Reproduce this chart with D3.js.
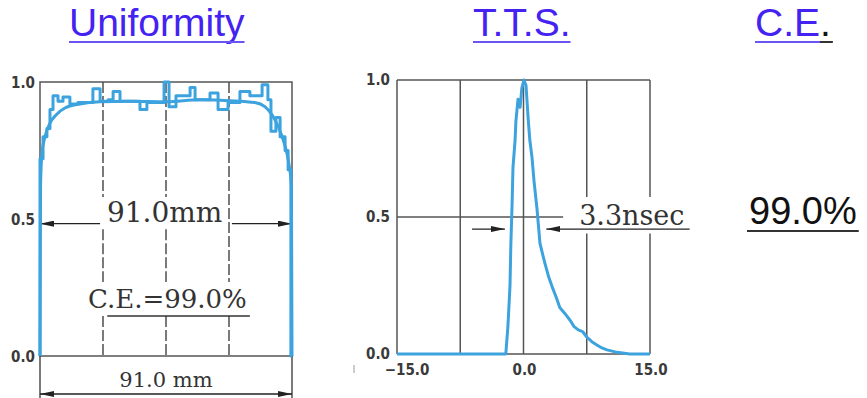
<!DOCTYPE html>
<html>
<head>
<meta charset="utf-8">
<script src="https://cdn.jsdelivr.net/npm/d3@7"></script>
<style>
  body { margin: 0; background: #fff; }
  svg { display: block; }
</style>
</head>
<body>
<div id="chart"></div>
<script>
// uniformity: histogram steps [mm, relative output]
const uniHist = [
  [-45.5, 0], [-45.5, 0.72], [-44.4, 0.80], [-43.0, 0.83], [-41.9, 0.90], [-40.8, 0.95],
  [-39.0, 0.93], [-37.2, 0.945], [-34.7, 0.92], [-31.8, 0.925], [-26.4, 0.975],
  [-23.8, 0.93], [-20.9, 0.935], [-19.1, 0.965], [-16.6, 0.93], [-9.4, 0.90],
  [-6.9, 0.925], [-0.7, 1.0], [1.1, 0.91], [3.6, 0.95], [8.7, 0.98], [10.5, 0.935],
  [15.9, 0.96], [18.8, 0.90], [22.4, 0.925], [26.7, 0.965], [30.3, 0.95], [34.7, 0.99],
  [36.8, 0.935], [37.9, 0.82], [39.7, 0.87], [41.2, 0.80], [43.0, 0.75], [44.1, 0.68],
  [45.1, 0], [45.5, 0]
];
// uniformity: smooth fit
const uniFit = [
  [-45.5, 0], [-45.3, 0.62], [-44.8, 0.74], [-43.7, 0.80], [-41.9, 0.85], [-39.7, 0.88],
  [-36.5, 0.905], [-31.1, 0.92], [-23.8, 0.928], [-13.0, 0.93], [0, 0.928], [12.3, 0.935],
  [23.1, 0.932], [32.1, 0.925], [35.7, 0.91], [38.3, 0.88], [40.4, 0.84], [42.6, 0.78],
  [44.4, 0.70], [45.3, 0.62], [45.5, 0]
];
// transit time spread [ns, relative count]
const tts = [
  [-15, 0], [-2.1, 0], [-1.85, 0.1], [-1.6, 0.25], [-1.5, 0.4], [-1.35, 0.55], [-1.25, 0.68],
  [-1.0, 0.78], [-0.9, 0.85], [-0.65, 0.93], [-0.4, 0.9], [-0.2, 0.97], [0.05, 1.0],
  [0.3, 0.98], [0.55, 0.86], [0.75, 0.78], [1.0, 0.72], [1.25, 0.63], [1.6, 0.53],
  [1.95, 0.405], [2.3, 0.36], [2.55, 0.33], [3.0, 0.28], [3.4, 0.245], [3.9, 0.205],
  [4.3, 0.17], [4.9, 0.148], [5.5, 0.124], [6.0, 0.1], [6.5, 0.088], [7.0, 0.082],
  [7.5, 0.062], [8.1, 0.045], [8.7, 0.033], [9.3, 0.022], [9.9, 0.015], [11.1, 0.006],
  [12.6, 0], [15, 0]
];
const uniXTicks = [-22.75, 0, 22.75];
const ttsXTicks = [-7.5, 0, 7.5];
const yTickLabels = [[0, "0.0"], [0.5, "0.5"], [1, "1.0"]];
const ttsXLabels = [[-15, "\u221215.0"], [0, "0.0"], [15, "15.0"]];
const titles = ["Uniformity", "T.T.S.", "C.E"];
const uniWidthLabel = "91.0mm";
const uniDimLabel = "91.0 mm";
const uniCELabel = "C.E.=99.0%";
const fwhmLabel = "3.3nsec";
const ceValue = "99.0%";

const width = 867, height = 398;
const blue = "#3da3de", frame = "#555", ink = "#333";
const titleColor = "#4322f2";
const serif = "'DejaVu Serif', serif";
const tickFont = "'DejaVu Sans Condensed', 'DejaVu Sans', sans-serif";

const svg = d3.select("#chart").append("svg")
  .attr("width", width).attr("height", height);

const defs = svg.append("defs");
defs.append("marker")
  .attr("id", "arrow")
  .attr("viewBox", "0 0 14 6")
  .attr("refX", 14).attr("refY", 3)
  .attr("markerWidth", 14).attr("markerHeight", 6)
  .attr("markerUnits", "userSpaceOnUse")
  .attr("orient", "auto")
  .append("path").attr("d", "M0,0L14,3L0,6Z").attr("fill", "#222");

// titles
const titleSize = 39, titleBase = 36;
function title(x, y, text) {
  const t = svg.append("text").attr("x", x).attr("y", y)
    .attr("font-family", "'Liberation Sans', Arial, sans-serif")
    .attr("font-size", titleSize).attr("fill", titleColor).text(text);
  const w = t.node().getComputedTextLength();
  svg.append("line").attr("x1", x).attr("x2", x + w).attr("y1", y + 6).attr("y2", y + 6)
    .attr("stroke", "#6a55f2").attr("stroke-width", 2);
  return w;
}
title(69, titleBase, titles[0]);
title(473, titleBase, titles[1]);
const ceW = title(755, titleBase, titles[2]);
const dot = svg.append("text").attr("x", 755 + ceW).attr("y", titleBase)
  .attr("font-family", "'Liberation Sans', Arial, sans-serif")
  .attr("font-size", titleSize).attr("fill", "#111").text(".");
svg.append("line").attr("x1", 755 + ceW).attr("x2", 755 + ceW + dot.node().getComputedTextLength() + 2)
  .attr("y1", titleBase + 6).attr("y2", titleBase + 6).attr("stroke", "#333").attr("stroke-width", 2);

// ---------- uniformity panel ----------
const xU = d3.scaleLinear().domain([-45.5, 45.5]).range([40, 292]);
const yU = d3.scaleLinear().domain([0, 1]).range([356, 82]);
const gU = svg.append("g");

// dashed verticals, broken behind labels
const uniGaps = [[1, 0.58], [0.463, 0.27], [0.146, 0]];
uniXTicks.forEach((t, i) => {
  const segs = i === 2 ? [[1, 0.27], [0.146, 0]] : uniGaps;
  segs.forEach(s => {
    gU.append("line")
      .attr("x1", xU(t)).attr("x2", xU(t)).attr("y1", yU(s[0])).attr("y2", yU(s[1]))
      .attr("stroke", ink).attr("stroke-width", 1.3).attr("stroke-dasharray", "11,3");
  });
});
gU.append("rect").attr("x", xU(-45.5)).attr("y", yU(1))
  .attr("width", xU(45.5) - xU(-45.5)).attr("height", yU(0) - yU(1))
  .attr("fill", "none").attr("stroke", frame).attr("stroke-width", 1.5);

yTickLabels.forEach(([v, s]) => {
  gU.append("text").attr("x", 35).attr("y", yU(v) + 6).attr("text-anchor", "end")
    .attr("font-family", tickFont).attr("font-weight", "bold").attr("font-size", 15)
    .attr("fill", "#3a3a3a").text(s);
});

// 91.0mm width arrows at half max
gU.append("line").attr("x1", xU(-23.8)).attr("x2", xU(-45.5))
  .attr("y1", yU(0.483)).attr("y2", yU(0.483))
  .attr("stroke", "#222").attr("stroke-width", 1.3).attr("marker-end", "url(#arrow)");
gU.append("line").attr("x1", xU(23.8)).attr("x2", xU(45.5))
  .attr("y1", yU(0.483)).attr("y2", yU(0.483))
  .attr("stroke", "#222").attr("stroke-width", 1.3).attr("marker-end", "url(#arrow)");
gU.append("text").attr("x", xU(-0.5)).attr("y", yU(0.49)).attr("text-anchor", "middle")
  .attr("font-family", serif).attr("font-size", 28).attr("fill", ink).text(uniWidthLabel);

// C.E. label with underline
gU.append("text").attr("x", xU(0.5)).attr("y", yU(0.175)).attr("text-anchor", "middle")
  .attr("font-family", serif).attr("font-size", 26).attr("fill", ink).text(uniCELabel);
gU.append("line").attr("x1", xU(-21.2)).attr("x2", xU(30.3))
  .attr("y1", yU(0.146)).attr("y2", yU(0.146)).attr("stroke", ink).attr("stroke-width", 1.5);

// bottom dimension
[-45.5, 45.5].forEach(t => {
  gU.append("line").attr("x1", xU(t)).attr("x2", xU(t)).attr("y1", yU(0)).attr("y2", height)
    .attr("stroke", ink).attr("stroke-width", 1.3);
});
gU.append("line").attr("x1", xU(0)).attr("x2", xU(-45.5)).attr("y1", 394).attr("y2", 394)
  .attr("stroke", "#222").attr("stroke-width", 1.3).attr("marker-end", "url(#arrow)");
gU.append("line").attr("x1", xU(0)).attr("x2", xU(45.5)).attr("y1", 394).attr("y2", 394)
  .attr("stroke", "#222").attr("stroke-width", 1.3).attr("marker-end", "url(#arrow)");
gU.append("text").attr("x", xU(0)).attr("y", 387).attr("text-anchor", "middle")
  .attr("font-family", serif).attr("font-size", 21).attr("fill", ink).text(uniDimLabel);

const lineU = d3.line().x(d => xU(d[0])).y(d => yU(d[1]));
gU.append("path").datum(uniFit).attr("d", lineU.curve(d3.curveMonotoneX))
  .attr("fill", "none").attr("stroke", blue).attr("stroke-width", 3);
gU.append("path").datum(uniHist).attr("d", d3.line().x(d => xU(d[0])).y(d => yU(d[1])).curve(d3.curveStepAfter))
  .attr("fill", "none").attr("stroke", blue).attr("stroke-width", 3).attr("stroke-linejoin", "round");

// ---------- T.T.S. panel ----------
const xT = d3.scaleLinear().domain([-15, 15]).range([397, 650]);
const yT = d3.scaleLinear().domain([0, 1]).range([354, 80]);
const gT = svg.append("g");

const ttsLine = (x1, y1, x2, y2) => gT.append("line")
  .attr("x1", xT(x1)).attr("x2", xT(x2)).attr("y1", yT(y1)).attr("y2", yT(y2))
  .attr("stroke", frame).attr("stroke-width", 1.5);

ttsLine(-15, 1, 15, 1);
ttsLine(-15, 0, 15, 0);
ttsLine(-15, 0, -15, 1);
ttsXTicks.forEach(t => {
  if (t < 5) ttsLine(t, 0, t, 1);
  else { ttsLine(t, 1, t, 0.573); ttsLine(t, 0.44, t, 0); }
});
ttsLine(15, 1, 15, 0.573);
ttsLine(15, 0.44, 15, 0);
ttsLine(-15, 0.5, 4.7, 0.5);

yTickLabels.forEach(([v, s]) => {
  gT.append("text").attr("x", 390).attr("y", yT(v) + 5).attr("text-anchor", "end")
    .attr("font-family", tickFont).attr("font-weight", "bold").attr("font-size", 15)
    .attr("fill", "#3a3a3a").text(s);
});
ttsXLabels.forEach(([v, s]) => {
  gT.append("text").attr("x", xT(v) + (v < 0 ? 10 : 1)).attr("y", yT(0) + 21).attr("text-anchor", "middle")
    .attr("font-family", tickFont).attr("font-weight", "bold").attr("font-size", 15)
    .attr("fill", "#3a3a3a").text(s);
});
// stray mark left of axis
gT.append("line").attr("x1", 354).attr("x2", 354).attr("y1", 365).attr("y2", 373)
  .attr("stroke", "#bbb").attr("stroke-width", 1.5);

// FWHM arrows
gT.append("line").attr("x1", xT(-6.1)).attr("x2", xT(-2.2))
  .attr("y1", yT(0.456)).attr("y2", yT(0.456))
  .attr("stroke", "#222").attr("stroke-width", 1.3).attr("marker-end", "url(#arrow)");
gT.append("line").attr("x1", xT(19.7)).attr("x2", xT(2.7))
  .attr("y1", yT(0.456)).attr("y2", yT(0.456))
  .attr("stroke", "#222").attr("stroke-width", 1.3).attr("marker-end", "url(#arrow)");
gT.append("text").attr("x", xT(6.6)).attr("y", yT(0.47)).attr("font-family", serif)
  .attr("font-size", 27).attr("fill", ink).text(fwhmLabel);

gT.append("path").datum(tts)
  .attr("d", d3.line().x(d => xT(d[0])).y(d => yT(d[1])))
  .attr("fill", "none").attr("stroke", blue).attr("stroke-width", 3).attr("stroke-linejoin", "round");

// ---------- C.E. value ----------
const ceV = svg.append("text").attr("x", 749).attr("y", 224)
  .attr("font-family", "'Liberation Sans', Arial, sans-serif").attr("font-size", 38)
  .attr("fill", "#111").text(ceValue);
svg.append("line").attr("x1", 747).attr("x2", 749 + ceV.node().getComputedTextLength() + 2)
  .attr("y1", 231).attr("y2", 231).attr("stroke", "#333").attr("stroke-width", 2);
</script>
</body>
</html>
